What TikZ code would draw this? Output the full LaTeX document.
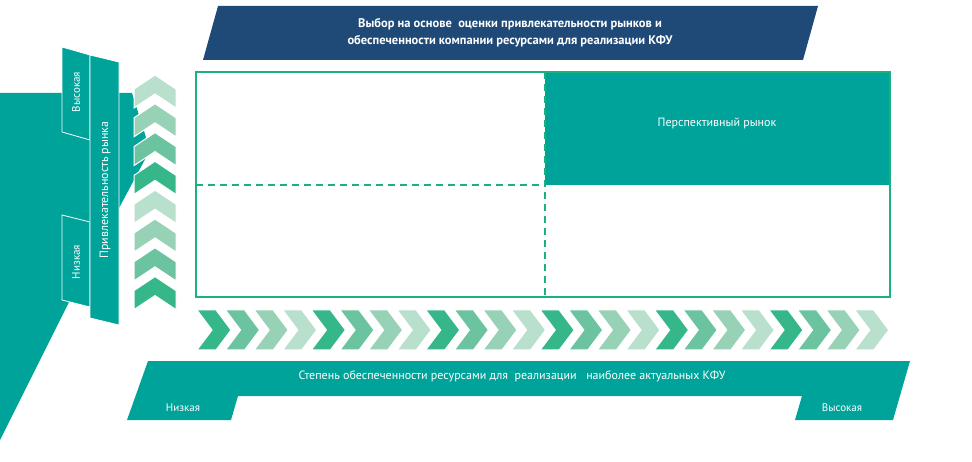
\documentclass[tikz,border=0pt]{standalone}
\usepackage{fontspec}
\setmainfont{PT Sans}
\definecolor{teal1}{HTML}{00A39A}
\definecolor{navy}{HTML}{1F4A78}
\definecolor{gr}{HTML}{1DB07C}
\definecolor{c1}{HTML}{36B78A}
\definecolor{c2}{HTML}{6CC3A0}
\definecolor{c3}{HTML}{97D1B6}
\definecolor{c4}{HTML}{B8E0CD}
\begin{document}
\begin{tikzpicture}[x=1pt,y=-1pt,
  wt/.style={text=white,font=\fontsize{11}{13}\selectfont},
  lab/.style={fill=teal1,draw=white,line width=0.8pt}]
\useasboundingbox (0,0) rectangle (972,462);
% big left shape
\fill[teal1] (0,93) -- (132,93) -- (150,150) -- (70,300) -- (0,440) -- cycle;
% title
\fill[navy] (218,6) -- (818,6) -- (803,60) -- (203,60) -- cycle;
\node[wt,font=\bfseries\fontsize{12.5}{17}\selectfont,align=center] (title) at (510,33) {Выбор на основе\ \ оценки привлекательности рынков и\\ обеспеченности компании ресурсами для реализации КФУ};
% grid
\fill[teal1] (545,72) rectangle (890,185);
\node[wt,font=\fontsize{12}{14}\selectfont] (persp) at (717,123) {Перспективный рынок};
\draw[gr,line width=2.5pt] (196,72) rectangle (890,297);
\draw[gr,line width=2pt,dash pattern=on 7pt off 5pt] (196,185) -- (545,185);
\draw[gr,line width=2pt,dash pattern=on 7pt off 5pt] (545,72) -- (545,297);
% vertical labels
\draw[lab] (62,47) -- (90,55) -- (90,140) -- (62,132) -- cycle;
\draw[lab] (62,215) -- (90,222) -- (90,307) -- (62,300) -- cycle;
\draw[lab] (90,55) -- (119,62) -- (119,325) -- (90,318) -- cycle;
\node[wt,rotate=90] (hi) at (76,92) {Высокая};
\node[wt,rotate=90] (lo) at (76,262) {Низкая};
\node[wt,rotate=90,font=\fontsize{12}{14}\selectfont] (attr) at (105,190) {Привлекательность рынка};
% vertical chevrons
\foreach \i [evaluate=\i as \y using 75+\i*28.8, evaluate=\i as \k using {int(mod(\i,4))}] in {0,...,7}{
  \ifcase\k \def\cc{c4}\or \def\cc{c3}\or \def\cc{c2}\or \def\cc{c1}\fi
  \fill[\cc,draw=white,line width=1pt] (134,\y+14) -- (155,\y) -- (176,\y+14) -- (176,\y+33) -- (155,\y+19) -- (134,\y+33) -- cycle;
}
% horizontal chevrons
\foreach \i [evaluate=\i as \x using 197+\i*28.6, evaluate=\i as \k using {int(mod(\i,4))}] in {0,...,23}{
  \ifcase\k \def\cc{c1}\or \def\cc{c2}\or \def\cc{c3}\or \def\cc{c4}\fi
  \fill[\cc,draw=white,line width=1pt] (\x,310) -- (\x+19,310) -- (\x+34,330) -- (\x+19,350) -- (\x,350) -- (\x+15,330) -- cycle;
}
% bottom banner
\fill[teal1] (148,361) -- (910,361) -- (893,420) -- (795,420) -- (802,396) -- (238,396) -- (231,420) -- (127,420) -- cycle;
\node[wt,font=\fontsize{12}{14}\selectfont] (res) at (512,376) {Степень обеспеченности ресурсами для\ \ реализации\ \ \ наиболее актуальных КФУ};
\node[wt] (blo) at (183,408) {Низкая};
\node[wt] (bhi) at (842,408) {Высокая};
\end{tikzpicture}
\end{document}
